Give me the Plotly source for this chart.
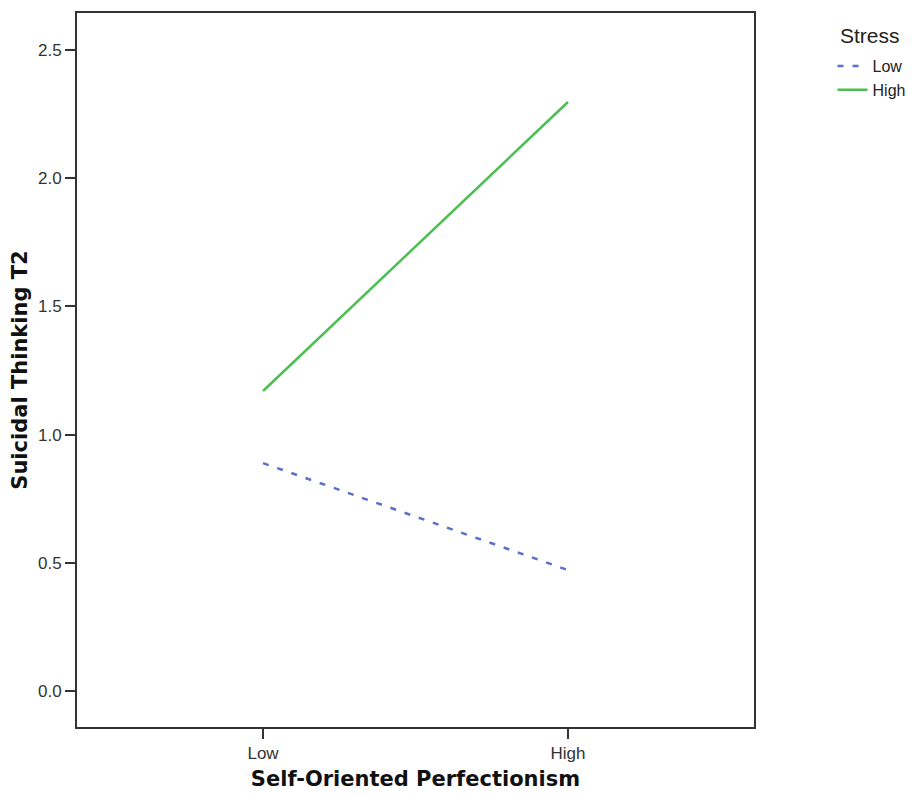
import plotly.graph_objects as go

categories = ["Low", "High"]
stress_low = [0.889, 0.472]
stress_high = [1.170, 2.297]
series_names = ["Low", "High"]
y_tick_vals = [0, 0.5, 1.0, 1.5, 2.0, 2.5]
y_tick_text = ["0.0", "0.5", "1.0", "1.5", "2.0", "2.5"]

fig = go.Figure()
fig.add_trace(go.Scatter(
    x=categories, y=stress_low, mode="lines", name=series_names[0],
    line=dict(color="#5a70c8", width=2.5, dash="6px,9px"),
))
fig.add_trace(go.Scatter(
    x=categories, y=stress_high, mode="lines", name=series_names[1],
    line=dict(color="#4cbf52", width=2.5),
))

bold_font = "DejaVu Sans, Verdana, sans-serif"

fig.update_layout(
    width=909, height=784,
    margin=dict(l=69, r=163, t=5, b=65, autoexpand=False),
    plot_bgcolor="white", paper_bgcolor="white",
    font=dict(family="Liberation Sans, Arial, sans-serif", color="#222"),
    showlegend=True,
    legend=dict(
        x=1.116, y=0.9496, xanchor="left", yanchor="top",
        font=dict(size=16, color="#222"),
        tracegroupgap=0, itemwidth=30,
        bgcolor="rgba(0,0,0,0)",
    ),
    annotations=[dict(
        text="Stress", x=1.172, xref="paper", y=0.969, yref="paper",
        xanchor="center", yanchor="middle",
        showarrow=False, font=dict(size=21, color="#222"),
    )],
    xaxis=dict(
        type="category", range=[-0.61, 1.61],
        showline=True, linecolor="#333", linewidth=2, mirror=True,
        ticks="outside", ticklen=10, tickwidth=1.5, tickcolor="#333",
        tickfont=dict(size=17, color="#333"),
        showgrid=False, zeroline=False,
        title=dict(text="<b>Self-Oriented Perfectionism</b>",
                   font=dict(size=21, color="#111", family=bold_font), standoff=9),
    ),
    yaxis=dict(
        range=[-0.140, 2.644],
        tickvals=y_tick_vals, ticktext=y_tick_text,
        showline=True, linecolor="#333", linewidth=2, mirror=True,
        ticks="outside", ticklen=10, tickwidth=1.5, tickcolor="#333",
        tickfont=dict(size=17, color="#333"),
        showgrid=False, zeroline=False,
        title=dict(text="<b>Suicidal Thinking T2</b>",
                   font=dict(size=21, color="#111", family=bold_font), standoff=5),
    ),
)

fig.write_html("out.html")
